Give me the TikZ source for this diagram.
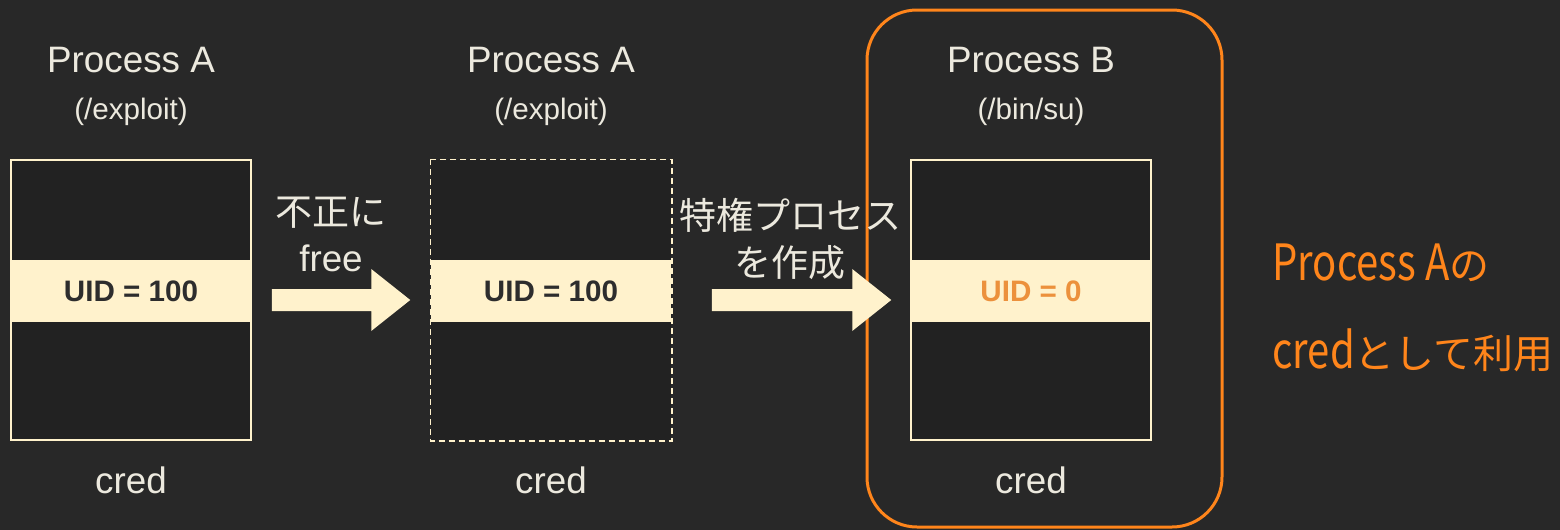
\documentclass[tikz,border=0pt]{standalone}
\usepackage{fontspec}
\setmainfont{Liberation Sans}
\newfontfamily\jp{Noto Sans CJK JP}
\usetikzlibrary{calc}
\definecolor{bg}{RGB}{40,40,40}
\definecolor{boxbg}{RGB}{34,34,34}
\definecolor{fg}{RGB}{236,233,222}
\definecolor{cream}{RGB}{255,242,204}
\definecolor{dark}{RGB}{45,45,45}
\definecolor{orng}{RGB}{255,133,27}
\definecolor{uidorng}{RGB}{236,145,60}
\newcommand\blockarrow[2]{%
  \fill[cream] ($(#1)+(0,-11)$) -- ($(#2)+(-39,-11)$) -- ($(#2)+(-39,-31)$) -- (#2)
    -- ($(#2)+(-39,31)$) -- ($(#2)+(-39,11)$) -- ($(#1)+(0,11)$) -- cycle;}
\begin{document}
\begin{tikzpicture}[x=0.5pt,y=-0.5pt,
  title/.style={text=fg, inner sep=0, font=\fontsize{18.4}{20}\selectfont},
  sub/.style={text=fg, inner sep=0, font=\fontsize{14.8}{16}\selectfont},
  credbox/.style={draw=cream, fill=boxbg, line width=0.75pt, minimum width=120pt, minimum height=140pt, inner sep=0},
  band/.style={fill=cream, minimum width=120pt, minimum height=31pt, inner sep=0, text=dark, font=\bfseries\fontsize{14.8}{16}\selectfont},
  jplabel/.style={text=fg, inner sep=0, font=\jp\fontsize{18.5}{20}\selectfont},
  frame/.style={draw=orng, line width=1.5pt, rounded corners=25pt, minimum width=177.5pt, minimum height=258.5pt, inner sep=0},
  note/.style={text=orng, inner sep=0, anchor=base west, font=\jp\fontsize{20}{24}\selectfont}
]
\fill[bg] (0,0) rectangle (1560,530);
\useasboundingbox (0,0) rectangle (1560,530);

% frame
\node[frame] (frame) at (1044.5,268.5) {};

% column 1
\node[title] (t1) at (131,60) {Process A};
\node[sub] (s1) at (131,112) {(/exploit)};
\node[credbox] (b1) at (131,300) {};
\node[band] (u1) at (131,291) {UID = 100};
\node[title] (c1) at (131,480) {cred};

% column 2
\node[title] (t2) at (551,60) {Process A};
\node[sub] (s2) at (551,112) {(/exploit)};
\node[credbox, draw=none] (b2) at (551,300) {};
\node[band] (u2) at (551,291) {UID = 100};
\draw[cream, line width=0.75pt, dash pattern=on 3pt off 2pt] (b2.north west) rectangle (b2.south east);
\node[title] (c2) at (551,480) {cred};

% column 3
\node[title] (t3) at (1031,60) {Process B};
\node[sub] (s3) at (1031,112) {(/bin/su)};
\node[credbox] (b3) at (1031,300) {};
\node[band, text=uidorng] (u3) at (1031,291) {UID = 0};
\node[title] (c3) at (1031,480) {cred};

% arrows
\coordinate (a1s) at ($(b1.east)+(20,0)$);
\coordinate (a1e) at ($(b2.west)+(-20,0)$);
\blockarrow{a1s}{a1e}
\coordinate (a2s) at ($(b2.east)+(40,0)$);
\coordinate (a2e) at ($(b3.west)+(-19,0)$);
\blockarrow{a2s}{a2e}

% arrow labels
\node[jplabel] (l1a) at (331,213) {不正に};
\node[title] (l1b) at (331,258) {free};
\node[jplabel] (l2a) at (790,215) {特権プロセス};
\node[jplabel] (l2b) at (790,263) {を作成};

% note
\node[note] (n1) at (1272,280) {\scalebox{0.8}[1]{\fontsize{25}{28}\selectfont Process A}の};
\node[note] (n2) at (1272,368) {\scalebox{0.8}[1]{\fontsize{25}{28}\selectfont cred}として利用};
\end{tikzpicture}
\end{document}
